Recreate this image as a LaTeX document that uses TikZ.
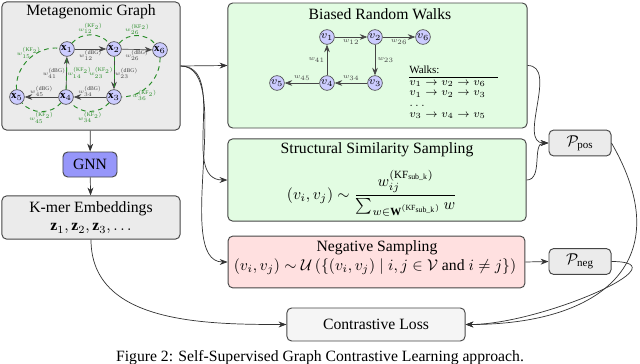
\documentclass[tikz,border=0pt]{standalone}
\usepackage{amsmath}
\usepackage{fontspec}
\setmainfont{Liberation Serif}
\usepackage{tikz}
\usetikzlibrary{arrows.meta,positioning}
\definecolor{panelgray}{RGB}{235,235,235}
\definecolor{walkgreen}{RGB}{226,252,226}
\definecolor{negred}{RGB}{255,224,224}
\definecolor{gnnblue}{RGB}{150,150,250}
\definecolor{vertexblue}{RGB}{204,204,255}
\definecolor{kfgreen}{RGB}{40,140,40}
\definecolor{framegray}{RGB}{70,70,70}

\begin{document}
\begin{tikzpicture}[
    x=0.0224cm, y=0.0224cm,
    panel/.style={draw=framegray, rounded corners=3pt, line width=0.6pt, align=center},
    vertex/.style={circle, draw=framegray, fill=vertexblue, minimum size=0.33cm, inner sep=0pt, font=\scriptsize},
    wlabel/.style={font=\tiny, inner sep=0.5pt, scale=0.72, transform shape},
    kflabel/.style={font=\tiny, text=kfgreen, inner sep=0.5pt, scale=0.72, transform shape},
    walklabel/.style={font=\tiny, inner sep=1.5pt, scale=0.85, transform shape},
    kfedge/.style={draw=kfgreen, dash pattern=on 3pt off 2.5pt, line width=0.6pt},
    flow/.style={->, draw=black!80, line width=0.45pt},
    >=Stealth
]
\useasboundingbox (0,0) rectangle (640,363);

% panels
\node[panel, fill=panelgray, minimum width=3.99cm, minimum height=2.87cm] (graph) at (91,297) {};
\node (graphtitle) at (91,351) {Metagenomic Graph};
\node[panel, fill=walkgreen, minimum width=6.70cm, minimum height=2.80cm] (walk) at (377.5,297.5) {};
\node (walktitle) at (380,349) {Biased Random Walks};
\node[panel, fill=walkgreen, minimum width=6.68cm, minimum height=1.84cm] (struct) at (377,183) {};
\node (structtitle) at (377,213) {Structural Similarity Sampling};
\node (structeq) at (372,170) {$\displaystyle (v_i, v_j) \sim \frac{w_{ij}^{(\mathrm{KF}_{\text{sub\_k}})}}{\sum_{w \in \mathbf{W}^{(\mathrm{KF}_{\text{sub\_k}})}} w}$};
\node[panel, fill=negred, minimum width=6.65cm, minimum height=1.16cm] (neg) at (376.5,101) {};
\node (negtitle) at (377,115) {Negative Sampling};
\node (negeq) at (375,96) {$(v_i, v_j) \sim \mathcal{U}\left(\{(v_i, v_j) \mid i, j \in \mathcal{V} \text{ and } i \neq j\}\right)$};

\node[panel, fill=gnnblue, minimum width=1.21cm, minimum height=0.56cm] (gnn) at (90,198.5) {GNN};
\node[panel, fill=panelgray, minimum width=3.99cm, minimum height=0.92cm] (kmer) at (91,145.5) {K-mer Embeddings\\ $\mathbf{z}_1, \mathbf{z}_2, \mathbf{z}_3, \ldots$};
\node[panel, fill=gray!8, minimum width=3.99cm, minimum height=0.74cm] (loss) at (376,38.5) {Contrastive Loss};
\node[panel, fill=panelgray, minimum width=1.39cm, minimum height=0.58cm] (ppos) at (580,220) {$\mathcal{P}_{\text{pos}}$};
\node[panel, fill=panelgray, minimum width=1.39cm, minimum height=0.58cm] (pneg) at (580,101.5) {$\mathcal{P}_{\text{neg}}$};

% metagenomic graph
\node[vertex] (x1) at (67,314) {$\mathbf{x}_1$};
\node[vertex] (x2) at (114,314) {$\mathbf{x}_2$};
\node[vertex] (x6) at (160,313) {$\mathbf{x}_6$};
\node[vertex] (x5) at (17,266) {$\mathbf{x}_5$};
\node[vertex] (x4) at (66,266) {$\mathbf{x}_4$};
\node[vertex] (x3) at (114,266) {$\mathbf{x}_3$};

\draw[->, framegray] (x1) -- node[wlabel, below] {$w_{12}^{(\mathrm{dBG})}$} (x2);
\draw[->, framegray] (x2) -- node[wlabel, below] {$w_{26}^{(\mathrm{dBG})}$} (x6);
\draw[->, framegray] (x4) -- node[wlabel, left] {$w_{41}^{(\mathrm{dBG})}$} node[kflabel, right] {$w_{14}^{(\mathrm{KF}_2)}$} (x1);
\draw[->, framegray] (x2) -- node[kflabel, left] {$w_{23}^{(\mathrm{KF}_2)}$} node[wlabel, right] {$w_{23}^{(\mathrm{dBG})}$} (x3);
\draw[->, framegray] (x3) -- node[wlabel, above] {$w_{34}^{(\mathrm{dBG})}$} (x4);
\draw[->, framegray] (x4) -- node[wlabel, above] {$w_{45}^{(\mathrm{dBG})}$} (x5);
\draw[kfedge] (x4) -- (x1);
\draw[kfedge] (x2) -- (x3);

\draw[kfedge] (x5) to[bend left=50] node[kflabel, above] {$w_{15}^{(\mathrm{KF}_2)}$} (x1);
\draw[kfedge] (x1) to[bend left=50] node[kflabel, above] {$w_{12}^{(\mathrm{KF}_2)}$} (x2);
\draw[kfedge] (x2) to[bend left=50] node[kflabel, above] {$w_{26}^{(\mathrm{KF}_2)}$} (x6);
\draw[kfedge] (x6) to[bend left=45] node[kflabel, pos=0.6, below] {$w_{36}^{(\mathrm{KF}_2)}$} (x3);
\draw[kfedge] (x3) to[bend left=50] node[kflabel, below] {$w_{34}^{(\mathrm{KF}_2)}$} (x4);
\draw[kfedge] (x4) to[bend left=50] node[kflabel, below] {$w_{45}^{(\mathrm{KF}_2)}$} (x5);

% random walk graph
\node[vertex] (v1) at (327,326) {$v_1$};
\node[vertex] (v2) at (375,326) {$v_2$};
\node[vertex] (v6) at (423,326) {$v_6$};
\node[vertex] (v5) at (277,280) {$v_5$};
\node[vertex] (v4) at (327,280) {$v_4$};
\node[vertex] (v3) at (375,280) {$v_3$};

\draw[->, framegray] (v1) -- node[walklabel, below] {$w_{12}$} (v2);
\draw[->, framegray] (v2) -- node[walklabel, below] {$w_{26}$} (v6);
\draw[->, framegray] (v2) -- node[walklabel, right] {$w_{23}$} (v3);
\draw[->, framegray] (v3) -- node[walklabel, above] {$w_{34}$} (v4);
\draw[->, framegray] (v4) -- node[walklabel, above] {$w_{45}$} (v5);
\draw[->, framegray] (v4) -- node[walklabel, left] {$w_{41}$} (v1);

\node[anchor=north west, font=\scriptsize, inner sep=0pt] (walklist) at (409,297) {%
  \renewcommand{\arraystretch}{0.85}%
  \begin{tabular}{@{}l@{\hspace{8pt}}}
  Walks:\\ \hline
  $v_1 \to v_2 \to v_6$\\
  $v_1 \to v_2 \to v_3$\\
  $\ldots$\\
  $v_3 \to v_4 \to v_5$
  \end{tabular}};

% connectors
\draw[flow] (graph.east) -- (walk.west);
\draw[flow] (graph.east) to[out=0, in=180] (struct.west);
\draw[flow] (graph.east) to[out=0, in=180, looseness=0.7] (neg.west);
\draw[flow] (graph) -- (gnn);
\draw[flow] (gnn) -- (kmer);
\draw[flow] (kmer.south) to[out=-90, in=180] (loss.west);
\draw[flow] (walk.east) to[out=0, in=180] (ppos.west);
\draw[flow] (struct.east) to[out=0, in=180] (ppos.west);
\draw[flow] (neg.east) -- (pneg.west);
\draw[flow] (ppos.east) to[out=-60, in=0, looseness=1.5] (loss.east);
\draw[flow] (pneg.east) to[out=0, in=0, looseness=1.2] (loss.east);

\node (caption) at (320,5) {Figure 2: Self-Supervised Graph Contrastive Learning approach.};
\end{tikzpicture}
\end{document}
